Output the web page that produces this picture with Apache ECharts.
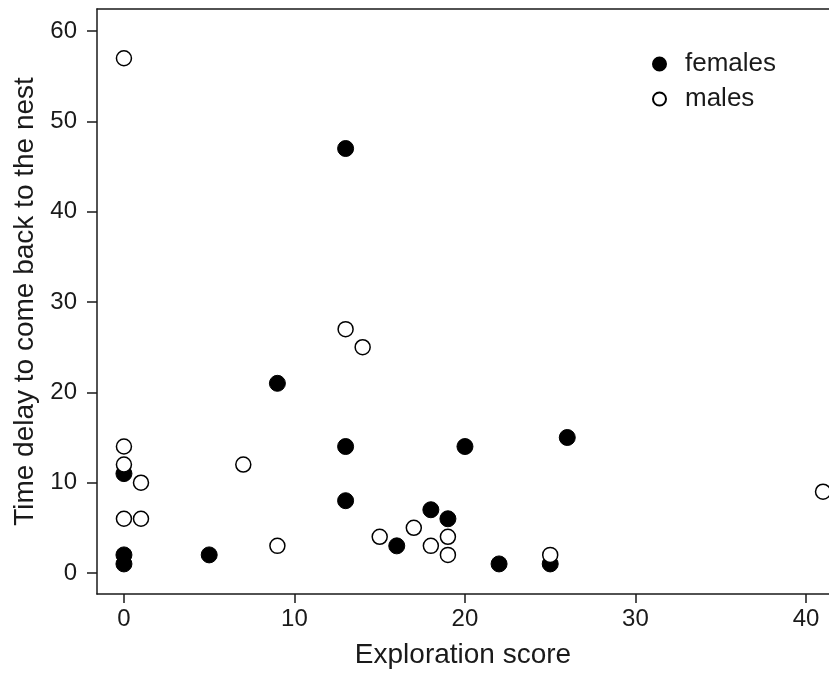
<!DOCTYPE html>
<html>
<head>
<meta charset="utf-8">
<script src="https://cdn.jsdelivr.net/npm/echarts@6/dist/echarts.min.js"></script>
<style>
  html, body { margin: 0; padding: 0; background: #fff; }
  #chart { width: 829px; height: 679px; }
</style>
</head>
<body>
<div id="chart"></div>
<script>
// exploration score / time delay
const femalesX = [0, 0, 0, 5, 9, 13, 13, 13, 16, 18, 19, 20, 22, 25, 26];
const femalesY = [11, 2, 1, 2, 21, 47, 14, 8, 3, 7, 6, 14, 1, 1, 15];
const malesX = [0, 0, 0, 0, 1, 1, 7, 9, 13, 14, 15, 17, 18, 19, 19, 25, 41];
const malesY = [57, 14, 12, 6, 10, 6, 12, 3, 27, 25, 4, 5, 3, 4, 2, 2, 9];
const xTicks = [0, 10, 20, 30, 40];
const yTicks = [0, 10, 20, 30, 40, 50, 60];

const font = "Liberation Sans, Arial, Helvetica, sans-serif";
const ink = "#1a1a1a";

const pairs = (xs, ys) => xs.map((x, i) => [x, ys[i]]);

let chart = echarts.init(document.getElementById("chart"));
let option = {
  backgroundColor: "#fff",
  animation: false,
  grid: { left: 97, right: 0, top: 9, bottom: 85 },
  legend: {
    orient: "vertical",
    left: 647,
    top: 46,
    itemWidth: 13,
    itemHeight: 13,
    itemGap: 9,
    icon: "circle",
    textStyle: { fontFamily: font, fontSize: 26, color: ink, padding: [0, 0, 0, 14] },
    data: ["females", "males"],
  },
  xAxis: [
    {
      type: "value",
      min: -1.58,
      max: 41.35,
      name: "Exploration score",
      nameLocation: "middle",
      nameGap: 47,
      nameTextStyle: { fontFamily: font, fontSize: 28, color: ink },
      splitLine: { show: false },
      axisLine: { onZero: false, lineStyle: { color: ink, width: 1.5 } },
      axisTick: { length: 9, lineStyle: { color: ink, width: 1.5 }, customValues: xTicks },
      axisLabel: {
        fontFamily: font, fontSize: 24, color: ink, margin: 13,
        customValues: xTicks,
      },
    },
    {
      // top border of the box
      type: "value",
      position: "top",
      min: -1.58,
      max: 41.35,
      splitLine: { show: false },
      axisLine: { onZero: false, lineStyle: { color: ink, width: 1.5 } },
      axisTick: { show: false },
      axisLabel: { show: false },
    },
  ],
  yAxis: {
    type: "value",
    min: -2.33,
    max: 62.45,
    name: "Time delay to come back to the nest",
    nameLocation: "middle",
    nameGap: 58,
    nameTextStyle: { fontFamily: font, fontSize: 28, color: ink },
    splitLine: { show: false },
    axisLine: { show: true, onZero: false, lineStyle: { color: ink, width: 1.5 } },
    axisTick: { show: true, length: 10, lineStyle: { color: ink, width: 1.5 }, customValues: yTicks },
    axisLabel: {
      fontFamily: font, fontSize: 24, color: ink, margin: 20,
      customValues: yTicks,
    },
  },
  series: [
    {
      name: "females",
      type: "scatter",
      symbol: "circle",
      symbolSize: 16,
      itemStyle: { color: "#000", borderColor: "#000", borderWidth: 1, opacity: 1 },
      data: pairs(femalesX, femalesY),
    },
    {
      name: "males",
      type: "scatter",
      symbol: "circle",
      symbolSize: 15,
      itemStyle: { color: "#fff", borderColor: "#000", borderWidth: 1.5, opacity: 1 },
      data: pairs(malesX, malesY),
    },
  ],
};
chart.setOption(option, true);
</script>
</body>
</html>
